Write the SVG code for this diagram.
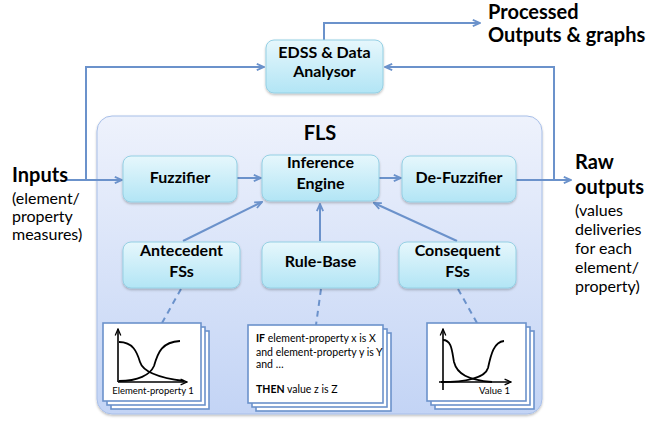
<svg xmlns="http://www.w3.org/2000/svg" width="667" height="426" viewBox="0 0 667 426">
<defs>
<linearGradient id="gBox" x1="0" y1="0" x2="0" y2="1">
<stop offset="0" stop-color="#e6f7fc"/>
<stop offset="1" stop-color="#b2e5f5"/>
</linearGradient>
<linearGradient id="gFls" x1="0" y1="0" x2="0" y2="1">
<stop offset="0" stop-color="#eef2fc"/>
<stop offset="1" stop-color="#c3d4f5"/>
</linearGradient>
<filter id="sh" x="-10%" y="-10%" width="130%" height="140%">
<feDropShadow dx="0" dy="1.5" stdDeviation="1.2" flood-color="#000" flood-opacity="0.25"/>
</filter>
<marker id="ah" viewBox="0 0 10 10" refX="9" refY="5" markerWidth="9" markerHeight="9" orient="auto" markerUnits="userSpaceOnUse">
<path d="M1,1.5 L9,5 L1,8.5" fill="none" stroke="#6b92cb" stroke-width="2"/>
</marker>
<marker id="ak" viewBox="0 0 10 10" refX="9" refY="5" markerWidth="8" markerHeight="8" orient="auto" markerUnits="userSpaceOnUse">
<path d="M1,1.5 L9,5 L1,8.5" fill="none" stroke="#000" stroke-width="1.6"/>
</marker>
</defs>
<style>
.box{fill:url(#gBox);stroke:#95d0e4;stroke-width:1;filter:url(#sh)}
.lbl{font-family:Lato,"Liberation Sans",sans-serif;font-weight:bold;font-size:16px;fill:#000;text-anchor:middle}
.big{font-family:Lato,"Liberation Sans",sans-serif;font-weight:bold;font-size:20px;fill:#000}
.sub{font-family:Lato,"Liberation Sans",sans-serif;font-size:16px;fill:#000}
.con{fill:none;stroke:#6b92cb;stroke-width:2}
.arr{marker-end:url(#ah)}
.dash{fill:none;stroke:#6b92cb;stroke-width:2;stroke-dasharray:6 5}
.card{fill:#fff;stroke:#6b92cb;stroke-width:1.6}
.ax{fill:none;stroke:#000;stroke-width:1.6;marker-end:url(#ak)}
.cv{fill:none;stroke:#000;stroke-width:1.8}
.ct{font-family:Lato,"Liberation Sans",sans-serif;font-size:9.5px;fill:#000}
.rt{font-family:Lato,"Liberation Sans",sans-serif;font-size:10.5px;fill:#000}
</style>

<g id="fls">
<rect x="97" y="116" width="445" height="298" rx="15" fill="url(#gFls)" stroke="#a8bfe8" stroke-width="1" filter="url(#sh)"/>
<text x="320" y="140" class="big" text-anchor="middle">FLS</text>
</g>

<g id="connectors">
<path class="con arr" d="M67,180 H122"/>
<path class="con arr" d="M86,180 V67 H264"/>
<path class="con arr" d="M237,178 H261"/>
<path class="con arr" d="M379,178 H401"/>
<path class="con arr" d="M516,180 H571"/>
<path class="con arr" d="M554,180 V67 H385"/>
<path class="con arr" d="M324,40 V23 H480"/>
<path class="con arr" d="M183,241 L262,202"/>
<path class="con arr" d="M320,241 V204"/>
<path class="con arr" d="M457,241 L374,203"/>
<path class="dash" d="M181,289 L162,323"/>
<path class="dash" d="M321,289 L316,325"/>
<path class="dash" d="M458,289 L477,323"/>
</g>

<g id="edss">
<rect class="box" x="266" y="40" width="117" height="53" rx="8"/>
<text class="lbl" x="324.5" y="58">EDSS &amp; Data</text>
<text class="lbl" x="324.5" y="77">Analysor</text>
</g>

<g id="fuzzifier">
<rect class="box" x="123" y="156" width="114" height="46" rx="8"/>
<text class="lbl" x="180" y="183">Fuzzifier</text>
</g>

<g id="inference">
<rect class="box" x="262" y="155" width="117" height="46" rx="8"/>
<text class="lbl" x="320.5" y="168">Inference</text>
<text class="lbl" x="320.5" y="189">Engine</text>
</g>

<g id="defuzzifier">
<rect class="box" x="402" y="156" width="114" height="46" rx="8"/>
<text class="lbl" x="459" y="183">De-Fuzzifier</text>
</g>

<g id="antecedent">
<rect class="box" x="123" y="242" width="117" height="46" rx="8"/>
<text class="lbl" x="181.5" y="256">Antecedent</text>
<text class="lbl" x="181.5" y="277">FSs</text>
</g>

<g id="rulebase">
<rect class="box" x="262" y="242" width="117" height="46" rx="8"/>
<text class="lbl" x="320.5" y="267">Rule-Base</text>
</g>

<g id="consequent">
<rect class="box" x="399" y="242" width="117" height="46" rx="8"/>
<text class="lbl" x="457.5" y="256">Consequent</text>
<text class="lbl" x="457.5" y="277">FSs</text>
</g>

<g id="processed">
<text class="big" x="488" y="19">Processed</text>
<text class="big" x="488" y="42">Outputs &amp; graphs</text>
</g>

<g id="inputs">
<text class="big" x="12" y="182">Inputs</text>
<text class="sub" x="12" y="204">(element/</text>
<text class="sub" x="12" y="222">property</text>
<text class="sub" x="12" y="240">measures)</text>
</g>

<g id="rawoutputs">
<text class="big" x="575" y="169">Raw</text>
<text class="big" x="575" y="194">outputs</text>
<text class="sub" x="575" y="216">(values</text>
<text class="sub" x="575" y="235">deliveries</text>
<text class="sub" x="575" y="254">for each</text>
<text class="sub" x="575" y="273">element/</text>
<text class="sub" x="575" y="292">property)</text>
</g>

<g id="antecedent-card">
<rect class="card" x="111" y="331" width="98" height="78"/>
<rect class="card" x="107" y="327" width="98" height="78"/>
<rect class="card" x="103" y="323" width="98" height="78"/>
<path class="ax" d="M118,382 V329"/>
<path class="ax" d="M118,382 H187"/>
<path class="cv" d="M119,342 C133,342 137,352 140,362 C143,372 160,378 184,381"/>
<path class="cv" d="M119,381 C138,381 150,375 154,366 C158,352 162,342 180,341"/>
<text class="ct" x="153" y="394" text-anchor="middle">Element-property 1</text>
</g>

<g id="rule-card">
<rect class="card" x="256" y="333" width="135" height="78"/>
<rect class="card" x="252" y="329" width="135" height="78"/>
<rect class="card" x="248" y="325" width="135" height="78"/>
<text class="rt" x="256" y="342"><tspan font-weight="bold">IF</tspan> element-property x is X</text>
<text class="rt" x="256" y="356">and element-property y is Y</text>
<text class="rt" x="256" y="368">and …</text>
<text class="rt" x="256" y="393"><tspan font-weight="bold">THEN</tspan> value z is Z</text>
</g>

<g id="consequent-card">
<rect class="card" x="435" y="331" width="99" height="78"/>
<rect class="card" x="431" y="327" width="99" height="78"/>
<rect class="card" x="427" y="323" width="99" height="78"/>
<path class="ax" d="M443,390 V329"/>
<path class="ax" d="M439,382 H511"/>
<path class="cv" d="M443,340 C452,340 452,352 454,362 C457,374 468,380 492,382"/>
<path class="cv" d="M441,382 C465,382 485,378 488,368 C491,354 494,342 504,341"/>
<text class="ct" x="510" y="394" text-anchor="end">Value 1</text>
</g>
</svg>
